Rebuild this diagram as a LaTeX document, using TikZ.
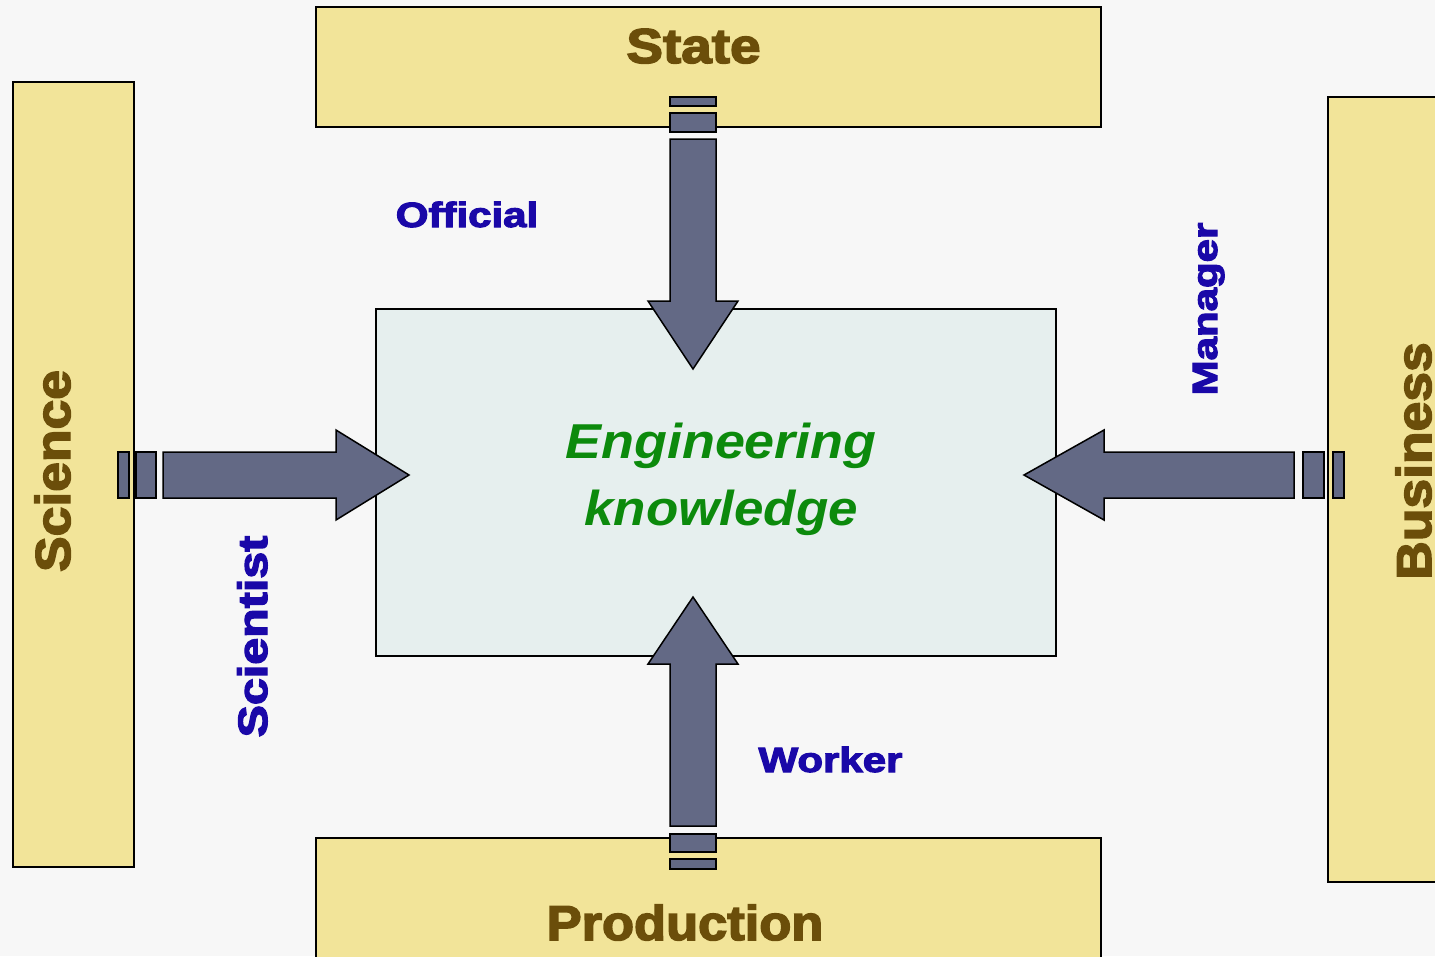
\documentclass[tikz,border=0pt]{standalone}
\usepackage{fontspec}
\setmainfont{Liberation Sans}
\newfontfamily\heavyfont{Liberation Sans Bold}[FakeBold=3]
\definecolor{bgc}{RGB}{247,247,247}
\definecolor{boxc}{RGB}{242,228,153}
\definecolor{brownc}{RGB}{107,78,10}
\definecolor{centerc}{RGB}{230,239,238}
\definecolor{arrc}{RGB}{99,105,133}
\definecolor{bluec}{RGB}{26,8,168}
\definecolor{greenc}{RGB}{12,138,12}
\begin{document}
\begin{tikzpicture}[x=1pt,y=-1pt,
  domainbox/.style={draw=black, line width=1.5pt, fill=boxc, inner sep=0pt},
  dlabel/.style={text=brownc, font=\fontsize{49}{55}\selectfont\heavyfont, inner sep=0pt, anchor=base},
  rlabel/.style={text=bluec, font=\fontsize{35}{40}\selectfont\heavyfont, inner sep=0pt, anchor=base},
  blockarrow/.style={fill=arrc, draw=black, line width=1.5pt, line join=miter},
  stripe/.style={fill=arrc, draw=black, line width=1.5pt}]
\useasboundingbox (0,0) rectangle (1435,956);
\clip (0,0) rectangle (1435,956);
\fill[bgc] (0,0) rectangle (1435,956);

% domain boxes
\node[domainbox, minimum width=785pt, minimum height=120pt] (state) at (708.5,67) {};
\node[domainbox, minimum width=785pt, minimum height=130pt] (production) at (708.5,903) {};
\node[domainbox, minimum width=121pt, minimum height=785pt] (science) at (73.5,474.5) {};
\node[domainbox, minimum width=130pt, minimum height=785pt] (business) at (1393,489.5) {};

% center box
\node[draw=black, line width=1.2pt, fill=centerc, minimum width=680pt, minimum height=347pt, inner sep=0pt] (center) at (716,482.5) {};

% domain labels
\node[dlabel] (statel) at (693.5,63) {\scalebox{1.12}[1]{State}};
\node[dlabel] (prodl) at (685,940) {\scalebox{1.07}[1]{Production}};
\node[dlabel, rotate=90] (sciencel) at (70,471) {\scalebox{1.09}[1]{Science}};
\node[dlabel, rotate=90] (businessl) at (1431,461) {\scalebox{1.09}[1]{Business}};

% role labels
\node[rlabel] (official) at (467,227) {\scalebox{1.2}[1]{Official}};
\node[rlabel] (worker) at (830.5,772) {\scalebox{1.2}[1]{Worker}};
\node[rlabel, rotate=90] (manager) at (1217,309) {\scalebox{1.2}[1]{Manager}};
\node[rlabel, rotate=90, font=\fontsize{41}{45}\selectfont\heavyfont] (scientist) at (267,636.5) {\scalebox{1.18}[1]{Scientist}};

% top arrow (State -> center)
\draw[stripe] (670,97) rectangle (716,106);
\draw[stripe] (670,113) rectangle (716,132);
\draw[blockarrow] (670,139) -- (716,139) -- (716,301) -- (738,301) -- (693,369) -- (648,301) -- (670,301) -- cycle;

% bottom arrow (Production -> center)
\draw[stripe] (670,859) rectangle (716,869);
\draw[stripe] (670,834) rectangle (716,852);
\draw[blockarrow] (670,826) -- (716,826) -- (716,664) -- (738,664) -- (693,597) -- (648,664) -- (670,664) -- cycle;

% left arrow (Science -> center)
\draw[stripe] (118,452) rectangle (129,498);
\draw[stripe] (136,452) rectangle (156,498);
\draw[blockarrow] (163,452) -- (163,498) -- (336,498) -- (336,520) -- (409,475) -- (336,430) -- (336,452) -- cycle;

% right arrow (Business -> center)
\draw[stripe] (1333,452) rectangle (1344,498);
\draw[stripe] (1303,452) rectangle (1324,498);
\draw[blockarrow] (1294,452) -- (1294,498) -- (1104,498) -- (1104,520) -- (1024,475) -- (1104,430) -- (1104,452) -- cycle;

% center text
\node[anchor=base, inner sep=0pt, text=greenc, font=\fontsize{49}{67}\selectfont\bfseries\itshape] (ek) at (721,458)
  {\begin{tabular}[t]{@{}c@{}}\scalebox{1.1}[1]{Engineering}\\\scalebox{1.08}[1]{knowledge}\end{tabular}};
\end{tikzpicture}
\end{document}
